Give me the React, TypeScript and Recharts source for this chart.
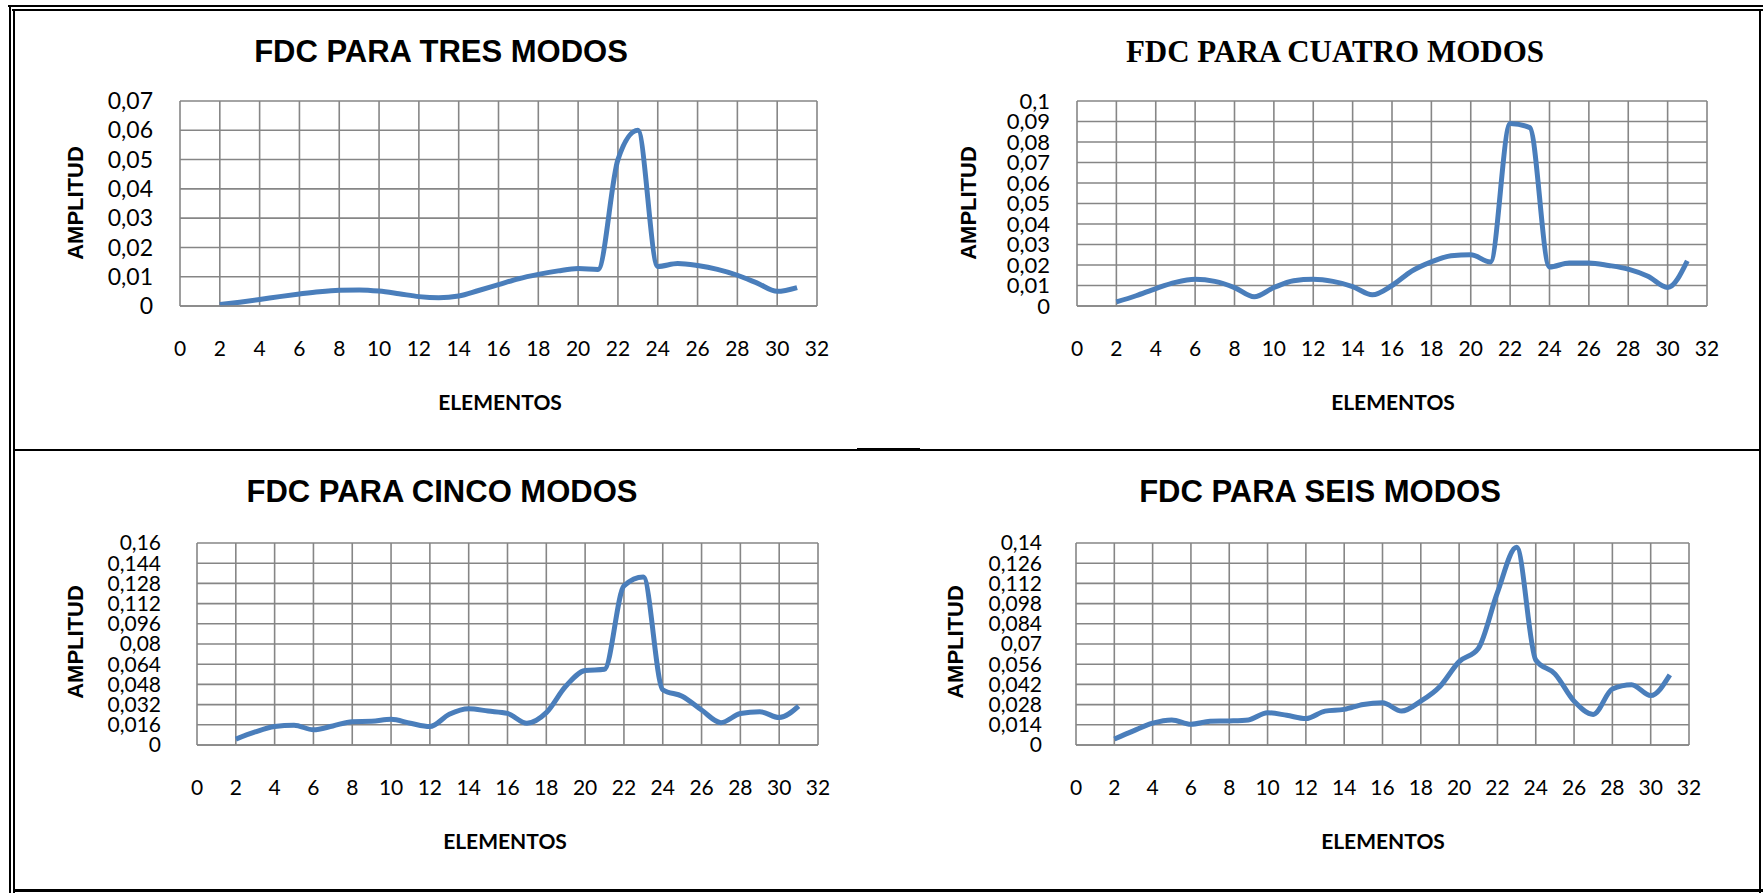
import React from "react";
import { LineChart, Line, XAxis, YAxis, CartesianGrid } from "recharts";

// element index on the x axis (2..31)
const elementos = [
  2, 3, 4, 5, 6, 7, 8, 9, 10, 11, 12, 13, 14, 15, 16, 17, 18, 19, 20, 21, 22,
  23, 24, 25, 26, 27, 28, 29, 30, 31,
];

const tresModos = [
  0.0005, 0.0013, 0.0022, 0.0032, 0.0041, 0.0049, 0.0054, 0.0055, 0.0051,
  0.0042, 0.0032, 0.0028, 0.0034, 0.0053, 0.0073, 0.0093, 0.0108, 0.012,
  0.0128, 0.0125, 0.05, 0.06, 0.0135, 0.0145, 0.0138, 0.0125, 0.0105, 0.0078,
  0.005, 0.0063,
];

const cuatroModos = [
  0.002, 0.005, 0.0085, 0.0115, 0.013, 0.012, 0.009, 0.0045, 0.009, 0.0123,
  0.013, 0.012, 0.0095, 0.0055, 0.01, 0.017, 0.0215, 0.0245, 0.025, 0.0215,
  0.089, 0.087, 0.019, 0.021, 0.021, 0.0198, 0.018, 0.0145, 0.009, 0.022,
];

const cincoModos = [
  0.0047, 0.0104, 0.0146, 0.0157, 0.012, 0.0151, 0.0185, 0.0188, 0.0204,
  0.0172, 0.0146, 0.0243, 0.0287, 0.0269, 0.025, 0.0172, 0.0256, 0.0465,
  0.059, 0.06, 0.126, 0.133, 0.0438, 0.0386, 0.0277, 0.0177, 0.025, 0.0264,
  0.0217, 0.0308,
];

const seisModos = [
  0.0041, 0.0098, 0.0151, 0.0174, 0.0144, 0.0164, 0.0167, 0.0174, 0.0224,
  0.0206, 0.0183, 0.0235, 0.0247, 0.0281, 0.0292, 0.0235, 0.0304, 0.0406,
  0.0578, 0.0669, 0.1057, 0.137, 0.0589, 0.0493, 0.0304, 0.0212, 0.0388,
  0.0418, 0.0343, 0.0486,
];

const xTicks = [0, 2, 4, 6, 8, 10, 12, 14, 16, 18, 20, 22, 24, 26, 28, 30, 32];
const yTicksTres = [0, 0.01, 0.02, 0.03, 0.04, 0.05, 0.06, 0.07];
const yTicksCuatro = [0, 0.01, 0.02, 0.03, 0.04, 0.05, 0.06, 0.07, 0.08, 0.09, 0.1];
const yTicksCinco = [0, 0.016, 0.032, 0.048, 0.064, 0.08, 0.096, 0.112, 0.128, 0.144, 0.16];
const yTicksSeis = [0, 0.014, 0.028, 0.042, 0.056, 0.07, 0.084, 0.098, 0.112, 0.126, 0.14];

const BLUE = "#4A7EBB";
const GRID = "#868686";
const tickFont = "Lato, 'Open Sans', sans-serif";

type Box = { x: number; y: number; w: number; h: number };

const fmt = (v: number) => String(v).replace(".", ",");

const abs = (cx: number, cy: number): React.CSSProperties => ({
  position: "absolute",
  left: cx,
  top: cy,
  transform: "translate(-50%, -50%)",
  whiteSpace: "nowrap",
  lineHeight: 1,
  color: "#000",
});

const Panel = ({
  title,
  serif,
  values,
  yTicks,
  plot,
  yFont,
  yGap,
  titlePos,
  xLabelPos,
  yLabelPos,
}: {
  title: string;
  serif?: boolean;
  values: number[];
  yTicks: number[];
  plot: Box;
  yFont: number;
  yGap: number;
  titlePos: [number, number];
  xLabelPos: [number, number];
  yLabelPos: [number, number];
}) => {
  const rows = elementos.map((x, i) => ({ x, y: values[i] }));
  const ml = 100;
  const mt = 20;
  return (
    <>
      <div
        style={{
          ...abs(titlePos[0], titlePos[1]),
          fontFamily: serif ? "'Liberation Serif', serif" : "'Liberation Sans', Arial, sans-serif",
          fontWeight: "bold",
          fontSize: 31,
        }}
      >
        {title}
      </div>
      <div style={{ position: "absolute", left: plot.x - ml, top: plot.y - mt }}>
        <LineChart
          width={plot.w + ml + 30}
          height={plot.h + mt + 60}
          data={rows}
          margin={{ top: mt, right: 30, bottom: 0, left: 20 }}
        >
          <CartesianGrid stroke={GRID} strokeWidth={1.6} />
          <XAxis
            type="number"
            dataKey="x"
            domain={[0, 32]}
            ticks={xTicks}
            interval={0}
            height={60}
            tickLine={false}
            tickSize={0}
            tickMargin={35}
            axisLine={{ stroke: GRID, strokeWidth: 1.6 }}
            tick={{ fill: "#000", fontSize: 21, fontFamily: tickFont }}
          />
          <YAxis
            type="number"
            domain={[0, yTicks[yTicks.length - 1]]}
            ticks={yTicks}
            interval={0}
            width={80}
            tickLine={false}
            axisLine={false}
            tickSize={0}
            tickMargin={yGap}
            tickFormatter={fmt}
            tick={{ fill: "#000", fontSize: yFont, fontFamily: tickFont }}
          />
          <Line
            type="monotone"
            dataKey="y"
            stroke={BLUE}
            strokeWidth={5}
            dot={false}
            isAnimationActive={false}
          />
        </LineChart>
      </div>
      <div
        style={{
          ...abs(xLabelPos[0], xLabelPos[1]),
          fontFamily: tickFont,
          fontWeight: "bold",
          fontSize: 21,
        }}
      >
        ELEMENTOS
      </div>
      <div
        style={{
          ...abs(yLabelPos[0], yLabelPos[1]),
          transform: "translate(-50%, -50%) rotate(-90deg)",
          fontFamily: "'Liberation Sans', Arial, sans-serif",
          fontWeight: "bold",
          fontSize: 22,
        }}
      >
        AMPLITUD
      </div>
    </>
  );
};

const line = (left: number, top: number, width: number, height: number): React.CSSProperties => ({
  position: "absolute",
  left,
  top,
  width,
  height,
  background: "#000",
});

export default function App() {
  return (
    <div
      style={{
        position: "absolute",
        left: 0,
        top: 0,
        width: 1763,
        height: 893,
        background: "#fff",
        overflow: "hidden",
      }}
    >
      {/* frame */}
      <div style={line(8, 5, 1755, 2)} />
      <div style={line(12, 9, 1751, 2)} />
      <div style={line(9, 5, 2, 888)} />
      <div style={line(13, 9, 2, 884)} />
      <div style={line(13, 889, 1750, 3)} />
      <div style={line(1759, 9, 2, 884)} />
      <div style={line(13, 449, 1748, 2)} />
      <div style={line(857, 448, 63, 3)} />

      <Panel
        title="FDC PARA TRES MODOS"
        values={tresModos}
        yTicks={yTicksTres}
        plot={{ x: 180, y: 101, w: 637, h: 205 }}
        yFont={23}
        yGap={27}
        titlePos={[441, 51]}
        xLabelPos={[500, 401]}
        yLabelPos={[76, 203]}
      />
      <Panel
        title="FDC PARA CUATRO MODOS"
        serif
        values={cuatroModos}
        yTicks={yTicksCuatro}
        plot={{ x: 1077, y: 101, w: 630, h: 205 }}
        yFont={22}
        yGap={27}
        titlePos={[1335, 51]}
        xLabelPos={[1393, 401]}
        yLabelPos={[969, 203]}
      />
      <Panel
        title="FDC PARA CINCO MODOS"
        values={cincoModos}
        yTicks={yTicksCinco}
        plot={{ x: 197, y: 543, w: 621, h: 202 }}
        yFont={21}
        yGap={36}
        titlePos={[442, 491]}
        xLabelPos={[505, 840]}
        yLabelPos={[76, 642]}
      />
      <Panel
        title="FDC PARA SEIS MODOS"
        values={seisModos}
        yTicks={yTicksSeis}
        plot={{ x: 1076, y: 543, w: 613, h: 202 }}
        yFont={21}
        yGap={34}
        titlePos={[1320, 491]}
        xLabelPos={[1383, 840]}
        yLabelPos={[956, 642]}
      />
    </div>
  );
}
